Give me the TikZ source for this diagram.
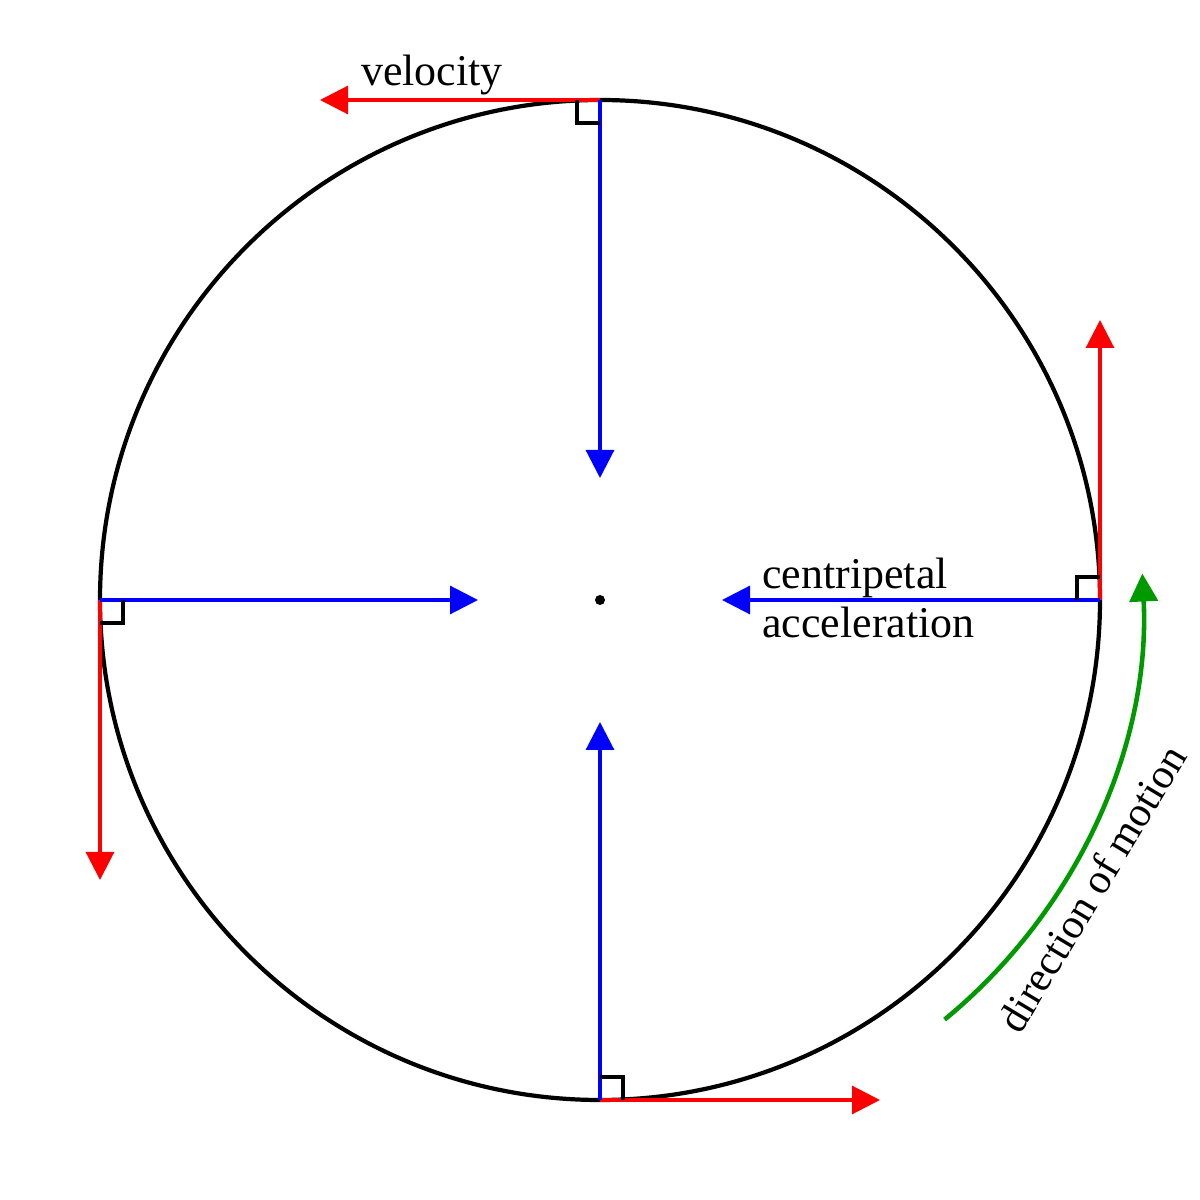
\documentclass[tikz,border=0pt]{standalone}
\usepackage{fontspec}
\setmainfont{Liberation Serif}
\usetikzlibrary{arrows.meta}
\begin{document}
\begin{tikzpicture}[
  vec/.style={line width=0.9pt,-{Triangle[length=0.28cm,width=0.28cm]}},
  vel/.style={vec,red},
  acc/.style={vec,blue},
  ra/.style={line width=0.9pt,black},
  lbl/.style={font=\fontsize{12.5}{14}\selectfont}]
\useasboundingbox (0,0) rectangle (12,12);
\coordinate (c) at (6,6);
\coordinate (t) at (6,11);
\coordinate (r) at (11,6);
\coordinate (b) at (6,1);
\coordinate (l) at (1,6);
\coordinate (tv) at (3.2,11);
\coordinate (ta) at (6,7.22);
\coordinate (rv) at (11,8.8);
\coordinate (ra2) at (7.22,6);
\coordinate (bv) at (8.8,1);
\coordinate (ba) at (6,4.78);
\coordinate (lv) at (1,3.2);
\coordinate (la) at (4.78,6);
\draw[line width=1.2pt] (c) circle (5);
\fill (c) circle (0.05);
\draw[vel] (t) -- (tv);
\draw[acc] (t) -- (ta);
\draw[vel] (r) -- (rv);
\draw[acc] (r) -- (ra2);
\draw[vel] (b) -- (bv);
\draw[acc] (b) -- (ba);
\draw[vel] (l) -- (lv);
\draw[acc] (l) -- (la);
\draw[ra] (5.77,11) -- (5.77,10.77) -- (6,10.77);
\draw[ra] (10.77,6) -- (10.77,6.23) -- (11,6.23);
\draw[ra] (6,1.23) -- (6.23,1.23) -- (6.23,1);
\draw[ra] (1,5.77) -- (1.23,5.77) -- (1.23,6);
\draw[vec,line width=1.3pt,green!60!black] (c) ++(-50.6:5.43) arc[start angle=-50.6,end angle=2.8,radius=5.43];
\node[lbl] (tv lbl) at (4.32,11.25) {velocity};
\node[lbl,anchor=west,align=left] (ac lbl) at (7.5,6.02) {centripetal\\acceleration};
\node[lbl,rotate=59,font=\fontsize{12}{14}\selectfont] (dm lbl) at (10.92,3.12) {direction of motion};
\end{tikzpicture}
\end{document}
